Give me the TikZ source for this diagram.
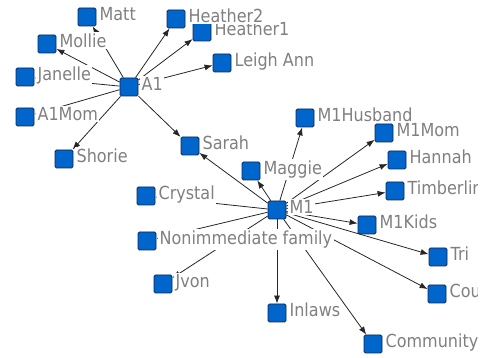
\documentclass[tikz,border=0pt]{standalone}
\usepackage{fontspec}
\usepackage{tikz}
\usetikzlibrary{calc,arrows.meta}
\newfontfamily\lblfont{DejaVu Sans}[FakeStretch=0.89]
\definecolor{actorblue}{RGB}{0,102,204}
\definecolor{actoredge}{RGB}{10,40,90}
\definecolor{lblgray}{RGB}{128,128,128}

\begin{document}
\begin{tikzpicture}[x=1pt,y=-1pt,
    actor/.style={draw=actoredge,fill=actorblue,line width=0.8pt,rounded corners=1.5pt,
        minimum size=18pt,inner sep=0pt},
    tie/.style={-{Latex[length=8pt,width=6pt]},line width=0.8pt,color=black!85},
    lbl/.style={fill=white,inner sep=1.5pt,anchor=base west,text=lblgray,
        font=\lblfont\fontsize{18}{21}\selectfont}]
    \useasboundingbox (0,0) rectangle (488,358);
    \begin{scope}
    \clip (0,0) rectangle (477,358);
    % actors
    \foreach \n/\x/\y in {a1/129/87, matt/87/17, mollie/47/44, janelle/25/77,
        a1mom/25/117, shorie/64/159, heathertwo/176/19, heatherone/202/32,
        leighann/222/63, sarah/190/146, m1/277/210, maggie/251/171,
        m1husband/305/118, m1mom/384/133, hannah/397/160, timberline/395/191,
        m1kids/367/225, tri/438/257, cou/437/294, community/373/344,
        inlaws/277/313, jvon/163/284, nonimm/147/241, crystal/146/196}
        \node[actor] (\n) at (\x,\y) {};
    % ties
    \foreach \t in {matt,mollie,janelle,a1mom,shorie,heathertwo,heatherone,leighann,sarah}
        \draw[tie] (a1) -- (\t);
    \foreach \t in {sarah,maggie,m1husband,m1mom,hannah,timberline,m1kids,tri,cou,
        community,inlaws,jvon,nonimm,crystal}
        \draw[tie] (m1) -- (\t);
    % names
    \foreach \n/\t in {a1/A1, matt/Matt, mollie/Mollie, janelle/Janelle, a1mom/A1Mom,
        shorie/Shorie, heatherone/Heather1, heathertwo/Heather2, leighann/Leigh Ann,
        sarah/Sarah, m1/M1, maggie/Maggie, m1husband/M1Husband, m1mom/M1Mom,
        hannah/Hannah, timberline/Timberline, m1kids/M1Kids, tri/Tri, cou/Cou,
        community/Community, inlaws/Inlaws, jvon/Jvon, nonimm/Nonimmediate family,
        crystal/Crystal}
        \node[lbl] (\n-l) at ([xshift=1.5pt,yshift=-3.5pt]\n.east) {\t};
    \end{scope}
\end{tikzpicture}
\end{document}
